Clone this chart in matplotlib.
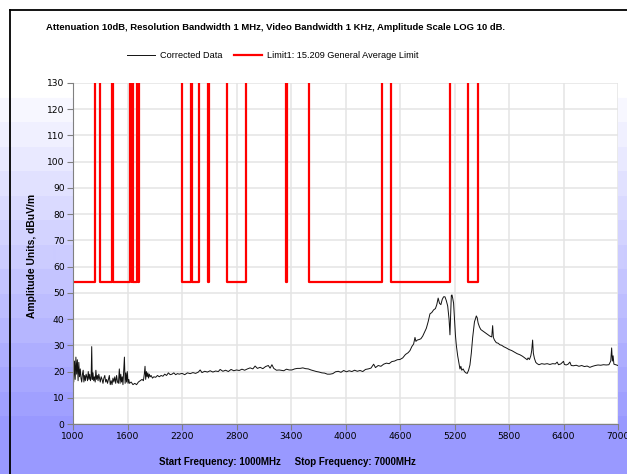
import numpy as np
import matplotlib
matplotlib.use("Agg")
from matplotlib import pyplot as plt
from matplotlib import font_manager
from matplotlib.lines import Line2D

# measured trace, MHz / dBuV/m
freq = [1000, 1008, 1016, 1024, 1032, 1040, 1048, 1056, 1064, 1072, 1080, 1088, 1096, 1104,
        1112, 1120, 1128, 1136, 1144, 1152, 1160, 1168, 1176, 1184, 1192, 1200, 1206, 1212,
        1220, 1228, 1236, 1244, 1252, 1260, 1268, 1276, 1284, 1292, 1300, 1310, 1320, 1330,
        1340, 1350, 1360, 1370, 1380, 1390, 1400, 1410, 1420, 1430, 1440, 1450, 1460, 1470,
        1480, 1490, 1500, 1510, 1518, 1526, 1534, 1542, 1550, 1558, 1566, 1574, 1582, 1590,
        1598, 1606, 1614, 1622, 1640, 1660, 1680, 1700, 1720, 1740, 1760, 1775, 1785, 1793,
        1800, 1808, 1816, 1824, 1832, 1840, 1850, 1860, 1875, 1890, 1910, 1930, 1950, 1970,
        1990, 2010, 2030, 2050, 2070, 2090, 2110, 2130, 2150, 2170, 2200, 2230, 2260, 2290,
        2320, 2350, 2380, 2400, 2420, 2450, 2480, 2510, 2540, 2570, 2600, 2620, 2650, 2680,
        2710, 2740, 2770, 2800, 2830, 2860, 2890, 2920, 2950, 2980, 3005, 3030, 3060, 3090,
        3120, 3150, 3170, 3190, 3210, 3240, 3270, 3300, 3320, 3350, 3380, 3410, 3440, 3470,
        3500, 3530, 3560, 3590, 3620, 3650, 3680, 3710, 3740, 3770, 3800, 3830, 3860, 3890,
        3920, 3950, 3980, 4010, 4040, 4070, 4100, 4130, 4160, 4190, 4220, 4250, 4280, 4310,
        4330, 4360, 4390, 4420, 4450, 4480, 4510, 4540, 4570, 4600, 4630, 4660, 4690, 4710,
        4730, 4750, 4765, 4775, 4790, 4810, 4830, 4850, 4870, 4890, 4910, 4930, 4950, 4970,
        4990, 5005, 5020, 5035, 5050, 5065, 5080, 5095, 5110, 5125, 5140, 5150, 5158, 5165,
        5172, 5180, 5190, 5200, 5210, 5220, 5235, 5250, 5260, 5270, 5280, 5295, 5310, 5325,
        5340, 5355, 5370, 5385, 5400, 5410, 5420, 5430, 5440, 5450, 5460, 5475, 5490, 5510,
        5530, 5550, 5570, 5590, 5610, 5620, 5628, 5640, 5660, 5680, 5700, 5720, 5740, 5770,
        5800, 5830, 5860, 5890, 5920, 5950, 5980, 6000, 6010, 6025, 6040, 6050, 6060, 6068,
        6080, 6095, 6110, 6130, 6160, 6190, 6220, 6250, 6280, 6310, 6330, 6345, 6370, 6400,
        6410, 6430, 6450, 6470, 6485, 6510, 6540, 6570, 6600, 6630, 6660, 6690, 6720, 6750,
        6780, 6810, 6840, 6870, 6900, 6920, 6930, 6938, 6946, 6955, 6975, 7000]
level = [27.5, 16, 24, 17, 25.5, 19, 24.5, 16.5, 23.5, 18, 21, 17.5, 16, 19,
         20.5, 16, 18.5, 16.5, 19, 18, 16.5, 20, 17, 19, 16.5, 18, 29.5, 17,
         19.5, 16.5, 18, 16, 20.5, 17, 18.5, 16.5, 19, 17.5, 16, 18, 17, 15.5,
         17.5, 18.5, 16, 17, 15.5, 17, 18.5, 15, 16.5, 15, 17.5, 16, 18, 15.5,
         18.5, 16, 15.5, 21, 15.5, 19, 16, 18, 15, 20, 25.5, 15.5, 19.5, 16,
         20, 15.5, 17, 15.5, 16, 15, 15.5, 15, 16, 16.5, 17, 16.5, 19, 22,
         17, 20, 18, 19.5, 17.5, 19, 18, 18.5, 17.5, 18, 17.8, 18.5, 18, 18.5,
         18.2, 19, 18.5, 19.5, 18.8, 19, 19.5, 18.8, 19.2, 19, 19.3, 18.8, 19.5, 19.2,
         19.6, 19.3, 19.8, 20.6, 19.6, 20.1, 19.8, 20.3, 19.8, 20.2, 20, 20.8, 20.1, 20.5,
         20, 20.8, 20.3, 20.6, 20.4, 20.9, 20.5, 21, 21.4, 21, 22.1, 21.2, 21.6, 21.1,
         21.9, 22.3, 21.3, 22.6, 21.2, 20.5, 20.6, 20.4, 20.3, 20.9, 20.6, 20.6, 21, 21.2,
         21.2, 21.4, 21.1, 21, 20.6, 20.3, 20, 19.8, 19.5, 19.4, 19, 19, 19.2, 19.9,
         20.1, 19.7, 20.4, 19.9, 20.3, 20, 20.5, 20.1, 20.4, 20, 20.8, 21, 21.3, 22.8,
         21.5, 22.3, 22, 22.8, 23.2, 23, 23.8, 24, 24.5, 24.6, 25.2, 26.5, 27.2, 28,
         29.5, 30.5, 33, 31.5, 32, 32.2, 32.5, 33.5, 35, 36.5, 39, 42, 42.5, 43.5,
         44, 45.5, 48, 46, 45.5, 47.5, 48.5, 48.5, 47, 45, 40, 34, 42, 49,
         49.2, 48, 46, 40, 34, 30, 26, 23, 21, 22, 20.5, 21, 20, 19.5,
         19.3, 20.5, 22.5, 27, 33, 36, 39, 40, 41.2, 40.5, 38.5, 37, 36, 35.5,
         35, 34.5, 34, 33.5, 33.2, 37.5, 33, 32, 31, 30.8, 30.2, 30, 29.5, 29,
         28.4, 28, 27.4, 26.8, 26.4, 25.8, 25, 24.5, 25.2, 24.6, 26, 28, 32, 27,
         25, 23.5, 23, 22.6, 23, 22.8, 23, 22.7, 23, 22.9, 23.6, 22.6, 22.9, 23.9,
         22.7, 22.5, 22.8, 23.6, 22.3, 22.2, 22.4, 22, 22.3, 21.9, 22.1, 21.6, 22, 22.3,
         22.5, 22.4, 22.6, 22.5, 22.6, 24, 29, 24, 26, 22.8, 22.6, 22.3]

# restricted bands (MHz) where the 54 dBuV/m average limit applies
band_lo = [960, 1300, 1435, 1645.5, 1660, 1718.8, 2200, 2310, 2483.5, 2690, 3345.8, 3600, 4500, 5350]
band_hi = [1240, 1427, 1626.5, 1646.5, 1710, 1722.2, 2300, 2390, 2500, 2900, 3358, 4400, 5150, 5460]
limit_in_band = 54
limit_off = 200  # off scale outside restricted bands

x_ticks = list(range(1000, 7001, 600))
y_ticks = list(range(0, 131, 10))

title = "Attenuation 10dB, Resolution Bandwidth 1 MHz, Video Bandwidth 1 KHz, Amplitude Scale LOG 10 dB."
x_label = "Start Frequency: 1000MHz     Stop Frequency: 7000MHz"
y_label = "Amplitude Units, dBuV/m"

names = {f.name for f in font_manager.fontManager.ttflist}
narrow = "Liberation Sans Narrow" if "Liberation Sans Narrow" in names else "Liberation Sans"

# limit trace from band edges
lim_f, lim_v = [], []
for lo, hi in zip(band_lo, band_hi):
    lim_f += [lo, lo, hi, hi]
    lim_v += [limit_off, limit_in_band, limit_in_band, limit_off]

W, H = 627, 474
fig = plt.figure(figsize=(W / 100, H / 100), dpi=100)

# stepped white-to-lavender background
bg = fig.add_axes([0, 0, 1, 1], zorder=-10)
rows = np.arange(H)
t = np.clip((rows - 97) / (440 - 97), 0, 1)
t = np.ceil(t * 14) / 14
top = np.array([1.0, 1.0, 1.0])
bot = np.array([153, 153, 255]) / 255
img = top[None, :] * (1 - t[:, None]) + bot[None, :] * t[:, None]
bg.imshow(img[:, None, :], aspect="auto", extent=[0, 1, 0, 1])
bg.set_axis_off()
fig.add_artist(Line2D([10 / W, 10 / W], [0, 1 - 10 / H], color="black", lw=1.3))
fig.add_artist(Line2D([10 / W, 1], [1 - 10 / H, 1 - 10 / H], color="black", lw=1.3))

ax = fig.add_axes([73 / W, 1 - 424 / H, 545 / W, 341 / H])
ax.set_facecolor("white")
ax.plot(freq, level, color="#111111", lw=0.7, label="Corrected Data")
ax.plot(lim_f, lim_v, color="#ff0000", lw=1.6, label="Limit1: 15.209 General Average Limit")
ax.set_xlim(1000, 7000)
ax.set_ylim(0, 130)
ax.set_xticks(x_ticks)
ax.set_yticks(y_ticks)
ax.grid(True, color="#e4e4e4", lw=1.1)
ax.set_axisbelow(True)
for s in ["top", "right"]:
    ax.spines[s].set_visible(False)
for s in ["left", "bottom"]:
    ax.spines[s].set_color("#808080")
ax.tick_params(length=4, color="#808080", pad=2)
for lab in ax.get_xticklabels() + ax.get_yticklabels():
    lab.set_fontfamily("DejaVu Sans")
    lab.set_fontsize(6.6)

fig.text(276 / W, 1 - 28 / H, title, ha="center", va="center",
         fontsize=6.8, fontweight="bold", family=narrow)
fig.text(287 / W, 1 - 462 / H, x_label, ha="center", va="center",
         fontsize=7.0, fontweight="bold", family=narrow)
fig.text(32 / W, 1 - 256 / H, y_label, ha="center", va="center", rotation=90,
         fontsize=7.4, fontweight="bold", family=narrow)
fig.legend(loc="center", bbox_to_anchor=(273 / W, 1 - 56 / H), ncol=2, frameon=False,
           prop={"family": narrow, "size": 6.6}, handlelength=3.0, columnspacing=1.3,
           handletextpad=0.6)

fig.savefig("out.png", dpi=100)
